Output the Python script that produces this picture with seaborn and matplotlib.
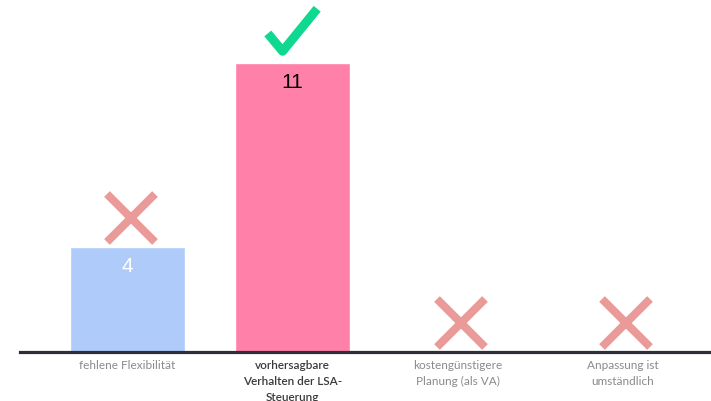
import numpy as np
import pandas as pd
import seaborn as sns
import matplotlib.pyplot as plt
from matplotlib.path import Path

# data
categories = ["fehlene Flexibilität", "vorhersagbare\nVerhalten der LSA-\nSteuerung",
              "kostengünstigere\nPlanung (als VA)", "Anpassung ist\numständlich"]
counts = [4, 11, 0, 0]
verdict = ["cross", "check", "cross", "cross"]

bar_colors = ['#aecbfa', '#ff80a8', '#cccccc', '#cccccc']
label_colors = ['white', 'black', 'white', 'white']
tick_colors = ['#8a8a8a', '#3a3a3a', '#8a8a8a', '#8a8a8a']

df = pd.DataFrame({'cat': categories, 'n': counts})

sns.set_theme(style='white')
plt.rcParams['font.family'] = ['Lato', 'DejaVu Sans']

fig = plt.figure(figsize=(7.11, 4.02), dpi=100)
ax = fig.add_axes([20/711, 49/402, 691/711, 353/402])

sns.barplot(ax=ax, data=df, x='cat', y='n', hue='cat', palette=bar_colors,
            legend=False, width=0.7, saturation=1)

ax.set_xlim(-0.652, 3.536)
ax.set_ylim(0, 13.44)
ax.set(xlabel=None, ylabel=None, yticks=[])
sns.despine(ax=ax, left=True)
ax.spines['bottom'].set_color('#2e2e38')
ax.spines['bottom'].set_linewidth(2.3)
ax.tick_params(axis='x', length=0, pad=5)
for lbl, c in zip(ax.get_xticklabels(), tick_colors):
    lbl.set_color(c)
    lbl.set_fontsize(8.5)
    lbl.set_linespacing(1.55)
ax.get_xticklabels()[1].set_fontweight('semibold')

# value labels inside bars
for i, (v, c) in enumerate(zip(counts, label_colors)):
    if v > 0:
        ax.annotate(str(v), (i, v), xytext=(0, -13.5), textcoords='offset points',
                    ha='center', va='center', color=c, fontsize=15,
                    family=['Liberation Sans', 'DejaVu Sans'])

# check / cross marks
check = Path([(-24, -3), (-9, -21), (26, 22)], [Path.MOVETO, Path.LINETO, Path.LINETO])
for i, (v, m) in enumerate(zip(counts, verdict)):
    if m == 'cross':
        ax.plot(i + 0.02, v + 1.1, marker='x', ms=35, mew=5.8, color='#eb9a9a')
    else:
        ax.plot(i - 0.01, v + 1.25, marker=check, ms=37, mew=6.5, mfc='none', color='#0fd890')

plt.savefig('out.png', dpi=100)
